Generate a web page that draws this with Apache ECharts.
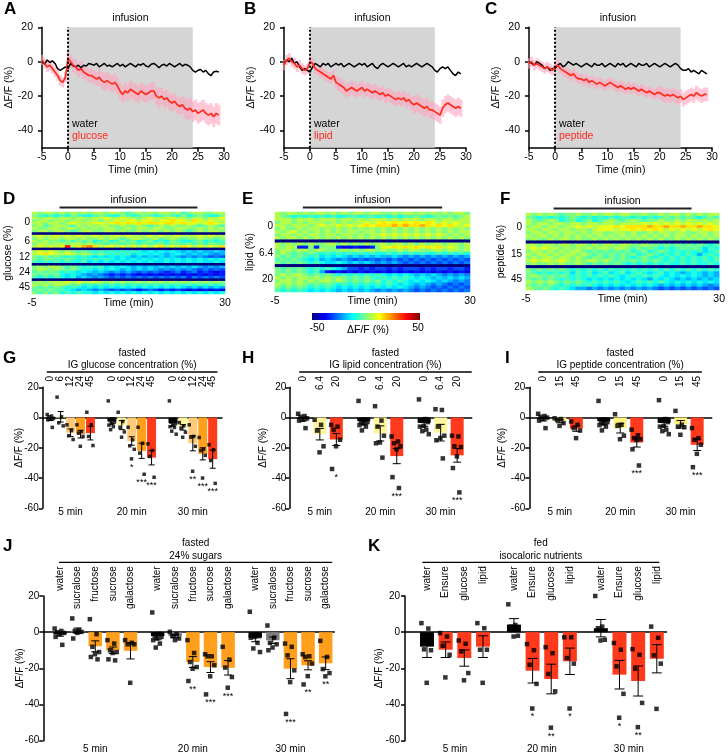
<!DOCTYPE html>
<html>
<head>
<meta charset="utf-8">
<script src="https://cdn.jsdelivr.net/npm/echarts@6.0.0/dist/echarts.min.js"></script>
<style>html,body{margin:0;padding:0;background:#fff;}#chart{width:728px;height:755px;}</style>
</head>
<body>
<div id="chart"></div>
<script>
// ================= DATA =================
// A–C: time courses (min) and mean ΔF/F (%)
const timeMin = [-5,-4.5,-4,-3.5,-3,-2.5,-2,-1.5,-1,-0.5, 0,0.5,1,1.5,2,2.5,3,3.5,4,4.5,
  5,5.5,6,6.5,7,7.5,8,8.5,9,9.5, 10,10.5,11,11.5,12,12.5,13,13.5,14,14.5,
  15,15.5,16,16.5,17,17.5,18,18.5,19,19.5, 20,20.5,21,21.5,22,22.5,23,23.5,24,24.5,
  25,25.5,26,26.5,27,27.5,28,28.5,29];
const waterA = [0,-1.5,1,-0.5,0.5,-1,-4,-5,-4,-3, -4,-1,-2.5,-3,-2,-3.5,-2,-2.5,-1,-1.5,
  -2,-1,-3,-2,-1,-2.5,-2,-3,-2,-1, -2.5,-1.5,-3,-2,-1,-2,-3,-1.5,-2,-1,
  -2.5,-3,-1.5,-1,-2,-3.5,-2,-1.5,-2.5,-1, -2,-3,-2,-1,-2.5,-1.5,-2,-3,-5,-6,
  -5,-4.5,-6,-5,-7,-8,-6,-5.5,-6];
const glucoseA = [1,-1,-3,-2,-4,-6,-8,-11,-12,-9, 2,0,-2,-3,-5,-4,-6,-7,-8,-8,
  -9,-10,-9,-11,-12,-11,-12,-13,-12,-14, -17,-19,-17,-18,-16,-17,-18,-19,-17,-18,
  -19,-18,-17,-17,-20,-21,-20,-22,-21,-23, -24,-23,-25,-26,-25,-27,-28,-27,-29,-28,
  -30,-29,-28,-30,-31,-30,-32,-30,-31];
const glucoseSemA = [3,3,3,3,3,3,3,3,3,3, 4,4,4,4,4,4,4,4,4,4, 4,4,5,5,5,5,5,5,5,5,
  5,5,5,5,5,5,5,5,5,5, 5,5,5,5,5,6,5,5,5,5, 5,5,5,5,5,6,6,6,6,6, 6,6,6,6,6,6,6,6,6];
const waterB = [-1,1,0,2,-1,0,-3,-5,-4,-5, -6,-3,-1,-2,-3,-1,-2,-1,-3,-2,
  -1,-2,-1,-3,-2,-1,-2,-3,-2,-1, -2,-1,-3,-2,-1,-3,-4,-2,-1,-2,
  -3,-2,-1,-2,-3,-2,-1,-3,-2,-3, -2,-1,-2,-3,-2,-1,-2,-3,-5,-6,
  -4,-3,-4,-3,-5,-7,-8,-6,-7];
const lipidB = [-2,1,2,0,-1,-3,-2,-4,-5,-4, 0,-1,-4,-5,-6,-7,-8,-9,-10,-8,
  -12,-13,-14,-15,-17,-16,-15,-16,-17,-16, -15,-17,-16,-17,-18,-17,-18,-19,-18,-20,
  -19,-20,-21,-22,-21,-22,-21,-23,-22,-24, -25,-24,-25,-26,-27,-26,-28,-28,-29,-30,
  -31,-27,-25,-24,-25,-26,-27,-26,-27];
const lipidSemB = [3,3,3,3,3,3,3,3,3,3, 3,3,3,3,3,3,3,3,3,3, 4,4,4,4,4,4,4,4,4,4,
  4,4,4,4,4,4,4,4,4,4, 4,4,4,4,4,4,4,4,4,4, 5,5,5,5,5,5,5,5,5,5, 5,5,5,5,5,5,5,5,5];
const waterC = [0,-1,-2,0,-1,-2,-4,-3,-5,-4, -4,-2,-1,-3,-2,0,-1,-2,-1,-2,
  -3,-2,-1,-2,-3,-1,-2,-2,-1,-3, -2,-1,-2,-3,-1,-2,-1,-3,-2,-1,
  -2,-3,-1,-2,-2,-1,-3,-2,-1,-2, -3,-2,-1,-2,-3,-2,-1,-2,-4,-5,
  -5,-4,-6,-5,-6,-7,-5,-6,-7];
const peptideC = [-1,0,-2,-1,-2,-3,-4,-3,-4,-5, -3,-2,-4,-5,-6,-7,-8,-7,-9,-10,
  -10,-11,-10,-12,-11,-12,-13,-12,-13,-14, -13,-12,-13,-14,-15,-14,-15,-16,-15,-16,
  -15,-16,-17,-16,-17,-18,-17,-18,-19,-18, -18,-19,-20,-19,-20,-19,-20,-21,-20,-22,
  -21,-20,-19,-20,-18,-19,-20,-19,-19];
const peptideSemC = [3,3,3,3,3,3,3,3,3,3, 3,3,3,3,3,3,3,3,3,3, 3,3,3,3,3,3,3,3,3,3,
  3,3,3,3,3,3,3,3,3,3, 3,3,3,3,3,3,3,3,3,3, 4,4,4,4,4,4,4,4,4,4, 4,4,4,4,4,4,4,4,4];
const infusionWindow = [0, 24];
const yTicksTime = [20, 0, -20, -40];

// D–F: heatmap rows (one letter per 1-min bin, a = -50 ... k = 0 ... u = +50, step 5)
const heatTimeLabels = [-5, 30];
const heatInfusion = [0, 25];
const heatGlucoseGroups = ['0','6','12','24','45'];
const heatGlucoseSizes = [8,5,5,5,5];
const heatGlucoseRows = [
 'lkllk lklkl kllkl lkjkl klkll kljkl lkkll','kjiji jikji ijkji ikjij kjijk jikij kjiik',
 'lkllk llkll kllml lmllk lmlll mllkl lkllm','kllkl lkllk llkll mlmml mmlmm nmmln mlmll',
 'llkll klmll lmmlm nmnmn mnnmn nmnmm lmnml','kljkl lkjlk lkllk klkkl kjklk lkklk jklkj',
 'lkkll kllkl klkll kklkl lkllk kllkk lklkl','kllkl lkjkl lkkll klkkl kllkl klkjk lkllk',
 'aaaaa aaaaa aaaaa aaaaa aaaaa aaaaa aaaaa',
 'lmllm lmlml lmlll mlmll lmlml lmlll mlmll','klkll kllkl kklkl kjkll kkljk lkjkk lkkjk',
 'lklkk jkjkj kijki jkjki jkiji kjiij kijij','kllkl lkllk lkkjk kjkkj kjkkj kkjkj kjkkj',
 'lmlml mrlmo pnlmm lmlml mlmnl mlnml mlmln',
 'aaaaa aaaaa aaaaa aaaaa aaaaa aaaaa aaaaa',
 'lmlml klkjk jijij ijiji hihih ihghg hgghg','lmnml lmlkl kjkji jijhi ihihg hihgh ghgfg',
 'kjkjk jijij ihihi hihgh ghghg hgfgf gfefe','kjkkj jkjij ijiji hihih ihihi hihih ihihi',
 'jijij ijiij hihih ihihi hihhi hihih ihhih',
 'aaaaa aaaaa aaaaa aaaaa aaaaa aaaaa aaaaa',
 'klkll kjkji jijhi hihgh ghghg hghgh gfgfg','kllkl kjkji ihihi hghgh ghgfg fgfgf efefe',
 'jkjkj ijihi hghgf gfgfe fefed efdef dedcd','kjkjk ihihg fgfed ededc dcdcd cdcdc dcdcd',
 'jijij ihigh gfgfe fefef efefe fefdf efefe',
 'aaaaa aaaaa aaaaa aaaaa aaaaa aaaaa aaaaa',
 'klkll lmlml lmlkl klkkl klklk lklkl klklk','lklkl lkjki jijij ijiji jijij ijiji jijij',
 'kjkjk jijih ihihi hihih ihihi hihgh ghghg','jkjkj jihgh gfgfe fefed efede dedcd cdcdc',
 'kjkjk ijiji ihihi hihih ihihi hihih ihihi'];
const heatLipidGroups = ['0','6.4','20'];
const heatLipidSizes = [9,7,8];
const heatLipidRows = [
 'lkllk lkllk lklkl lkllk klkll klklk lkllk','lkjij ijiji jiijj ijjij ijijj kjijk jkjkl',
 'lllkl llkll lkllk lklll klkll lkllk llkll','kllkl klllk lklkl lmlmn mnmnm nmnml mlmll',
 'llkll lklml lmlml mnmnn nonon nonmn mnmlm','klkkl kllkl klklk lklkl klklk lklkl klklk',
 'lklmk lklkl klkll kllkl klklk lklkl klkll','kllkl kllkl lkllk lkllm lmlml mlmlm lklkl',
 'lkllk lklkl klklk lklkl klklk lklkl klklk',
 'aaaaa aaaaa aaaaa aaaaa aaaaa aaaaa aaaaa',
 'lklkl klkkl lklkl klkll kllkl klkll kllkl','lklld dkdkk kdccd ccdkm mnmnm nmnmn lmlkl',
 'kllkl lkllk kklkl kllkl kklkl lkkll kllkl','klkjk jkjij ijiji jijii jijij ijiij ijiji',
 'kjkjk jijhi hihgh ghghg ghgfg fgfgf gfgfg','jkjkj ihigh gfgfe fefef efefe fefef efefe',
 'kjkjk jijih hihgh ghgfg fgfef efefe fefef',
 'aaaaa aaaaa aaaaa aaaaa aaaaa aaaaa aaaaa',
 'kjkjk jijij ihgee dedee dedee edede edeed','kjkjk jijgd cdcdc dcdcd cdcdc dcdcd cdcdc',
 'klkll kjkjk jijij ijiji hihih ghghg fgfgf','lklkl lklkl klkjk jkjij ijiji hihgh ghghg',
 'kllkl klkll klkjk jkjki jijih ihihg hgfgf','lklkl kjkjk jijij ijiji jihih ghgfg fefef',
 'kjkjk jijij ihihi hihih ihihg fgfef efefe','jijij ihihi hghgh ghgfg fgfgf efefe fefef'];
const heatPeptideGroups = ['0','15','45'];
const heatPeptideSizes = [9,7,7];
const heatPeptideRows = [
 'lklkl kjkkl kklkl lkllk klkkl kllkl klkll','kjiji jijkj ijiji jijji jijij kjkjk jijkj',
 'lkjkl kijki jkijk lkjkl kjkkl kklkl lklkl','lkllk llkll kllkl lklll lmlml mlmlm lmlml',
 'kllkl lkllm lmlmm mnmnn nnonn onnon nonnm','llkll kllkl lklmm mlmmn mnmnm lmlml mlmnm',
 'kllkl lkllk lkllk kllkl kklkl lkllk kllkl','lkllk lklkl klklk lklkl klklk lkllk lklkl',
 'klkkl kllkl kklkl klklk lklkl kklkl klklk',
 'aaaaa aaaaa aaaaa aaaaa aaaaa aaaaa aaaaa',
 'llkll kllkl lklkl lkllk klkkj kjkjk jkjij','lmlml lklkl klkll kllkj kjkji jijkj kjhji',
 'kllkl klkll kjkjk jkjki jkijk jijij ijhij','lkllk lkllk lkjkj kjkjk ijkji jijij igiji',
 'klkll kllkl kjkkj kjkji jkjij ijiji jijij','lmlml lmlkl kllkl kjkjk jkjkj ijiji jijij',
 'klkkl klkkl kjkjk jkjij ijiji jiiji jiiji',
 'aaaaa aaaaa aaaaa aaaaa aaaaa aaaaa aaaaa',
 'kjkjk jkjij ijiji jijij ijiji jijij ijiji','kjiji jijhj ijhij hijhi jihij hihgh ihghg',
 'klkjk jkjij ijiji jihij ijiji hihih ihghg','kjkjk jijij ihihi hihih ihgih ihghg hghgh',
 'lklkl kjkjk jijij ijihi jijij ihihi hihih','kjkjk jijij ijihi hihih ihihg hghgh ghgfg',
 'lkjkj ijihg gfgfg fgfgf gfgfe fefef efefe'];
const colorbarLabels = ['-50', '50'];

// G: glucose concentrations
const timeGroups = ['5 min', '20 min', '30 min'];
const gLabels = ['0','6','12','24','45'];
const gMean = [[-1,0.5,-10,-11,-10.3],[-2.5,-5,-15.5,-22,-26.5],[-3.7,-6.5,-17,-24,-27.5]];
const gSem = [[1,3.5,2.5,2.5,4.5],[1.8,3,2.8,5,4.8],[2,1.8,5,4,6]];
const gPts = [
 [[2,1,0.5,-0.5,-1,-1.5,-6.5],[13.5,0.5,-3.5,-5.5],[-4.8,-8.6,-12,-14.5],[-4.8,-9.2,-10.3,-12.5,-19],[3.5,-4.8,-12.5,-18.5]],
 [[11,-1,-2,-3,-4,-5,-6,-8],[3.5,-2.6,-6.4,-9.5,-13],[-6.4,-14.7,-18.7,-21,-27.3],[-6.4,-17,-23.5,-37.5],[-17.4,-21.8,-25.7,-39.5]],
 [[11,-2,-3,-4,-5,-6,-6.5,-9,-11],[-3.3,-5.5,-7,-9.7,-13],[-4.8,-12.5,-13,-19,-35.5],[-13.2,-21,-21.8,-25,-40],[-18,-21.3,-28.4,-43.5]]];
const gStars = [['','','','',''],['','','*','***','***'],['','','**','***','***']];
// H: lipid
const hLabels = ['0','6.4','20'];
const hMean = [[-1,-11,-14.5],[-2.4,-10.5,-25.5],[-3.5,-10,-25]];
const hSem = [[1.2,3.8,4],[2,5,5],[2.3,5.5,4.5]];
const hPts = [
 [[2.5,1,0.5,-0.5,-1.5,-2,-7],[-1.5,-4.8,-8.6,-19,-23],[-4.8,-6,-8,-14.7,-19,-34]],
 [[11,-1.5,-2.5,-3,-4,-5,-6,-8.5],[7.5,-2,-6,-12,-16.5,-17,-26.5],[-12.5,-15.8,-17,-19,-21,-39.4,-46.6]],
 [[12,-1,-2,-3,-5.5,-6,-8,-9,-11],[5.5,5,-6,-12,-13.5,-15,-27],[-12,-12.5,-19,-19.5,-25.7,-33.4,-49.5]]];
const hStars = [['','','*'],['','','***'],['','','***']];
// I: peptide
const iLabels = ['0','15','45'];
const iMean = [[-1,-2.4,-7.3],[-2.4,-7,-16.5],[-3.5,-4.5,-18]];
const iSem = [[1.2,1,1.8],[2,3.2,3],[2.3,2.5,3.8]];
const iPts = [
 [[2.5,1,0.5,0,-1,-2,-7],[-0.5,-1,-1.5,-3.7,-5.5],[-2.6,-4.8,-7,-8.6,-13.6]],
 [[11,-1.5,-2.5,-3,-4,-5,-6,-8.5],[2.2,-4.8,-5.5,-12,-14.3],[-8,-11.7,-13.6,-14.3,-14.8,-21,-31.7]],
 [[11.5,-1,-2,-3,-5.5,-6,-8,-9,-11],[4.4,-4.8,-6,-6.4,-11.4],[-7,-13.6,-14.7,-18,-24,-32.8]]];
const iStars = [['','',''],['','','***'],['','','***']];
// J: sugars
const jLabels = ['water','sucralose','fructose','sucrose','galactose'];
const jMean = [[-1.2,0.8,-7.8,-10,-10.3],[-2.2,-2.2,-16.5,-19.3,-19.7],[-3,-4.5,-20.2,-18.3,-17.2]];
const jSem = [[1,1.5,3,1.8,4.5],[2,0.8,3,3,4],[2.3,1.8,5.5,2.5,3.5]];
const jPts = [
 [[2,0.7,0,-0.4,-1.1,-2.6,-7],[7.6,1.1,0.7,0.2,-0.4,-3.5],[7.2,-1.1,-8.1,-11,-12.2,-13.7,-15],[-4.4,-6.3,-10,-11,-11.5,-15,-15.6],[-4.4,-5.9,-6.7,-6.7,-28]],
 [[10.9,-1,-2.2,-2.6,-3.5,-4.4,-6.3,-8.5],[0.2,-1.1,-2.2,-3.5,-4.4],[-4.4,-11.5,-16.5,-19.3,-20.2,-27],[-12.2,-13.3,-13.3,-18.3,-24.4,-34.4],[-8.1,-15.2,-19.6,-24.8,-30.7]],
 [[11.3,-1.1,-1.7,-2.2,-2.6,-3.1,-5.9,-9,-11],[3.7,-3,-5.9,-6.7,-8.5,-10],[-6.3,-8.1,-12.8,-21.1,-27.6,-45.2],[-12.2,-13.3,-13.7,-17.4,-24.3,-28.9],[-4.8,-13.7,-20.4,-22.6,-24.4]]];
const jStars = [['','','','',''],['','','**','***','***'],['','','***','**','**']];
// K: isocaloric nutrients (fed)
const kLabels = ['water','Ensure','glucose','lipid'];
const kMean = [[-8,-9.7,-14.3,-8],[4.2,-21.3,-25.9,-16.1],[2.2,-23.5,-27,-14.7]];
const kSem = [[6,4.3,4.5,6],[3.3,6.8,8.2,7.3],[4.8,7.9,8.3,7.8]];
const kPts = [
 [[5,2,-9.5,-10,-28],[-0.5,-2.4,-7.5,-12.5,-25],[-4.6,-6.4,-10.6,-22.6,-26.6],[5,2.2,-9.7,-9.7,-28]],
 [[15.4,4,3.1,-2,-2.4],[-6.6,-10,-18,-28.6,-42.2],[-8.3,-11.6,-23.1,-32.7,-52.8],[-2.8,-2.8,-14.3,-17.4,-42.2]],
 [[20,3.1,2.2,-4.2,-4.6],[-6,-9.7,-18.9,-34.1,-47.3],[-9.4,-12.5,-20.2,-39.1,-52.5],[3.1,-3.1,-12.8,-17.4,-42.4]]];
const kStars = [['','','',''],['','*','**','*'],['','*','**','']];

// ================= STYLE / LAYOUT =================
const FONT = '"Liberation Sans", Arial, Helvetica, sans-serif';
const RED_LINE = '#ff2b1c';
const BAR_RED = '#ff3a1c', BAR_ORANGE = '#ff9f1c', BAR_LORANGE = '#ffc97a', BAR_PALE = '#fff59a', BAR_GREY = '#808080';
const JET = ['#00007f','#0000ff','#007fff','#00ffff','#7fff7f','#ffff00','#ff7f00','#ff0000','#7f0000'];

const grids = [], xAxes = [], yAxes = [], series = [], later = [], heatIdx = [];
let chart;
const addGrid = g => (grids.push(g), grids.length - 1);
const addX = a => (xAxes.push(a), xAxes.length - 1);
const addY = a => (yAxes.push(a), yAxes.length - 1);
const txt = (size, extra) => Object.assign({color: '#000', fontSize: size, fontFamily: FONT}, extra || {});
const gText = (text, x, y, size, extra) => ({type: 'text', x, y, silent: true, z: 50,
  style: Object.assign({text, fill: '#000', fontSize: size, fontFamily: FONT, align: 'center', verticalAlign: 'middle'}, extra || {})});
const gLine = (x1, y1, x2, y2, w, col) => ({type: 'line', silent: true, z: 50, shape: {x1, y1, x2, y2}, style: {stroke: col || '#000', lineWidth: w}});
const axisLineStyle = {color: '#000', width: 1.5};

// ---------- time-course panels ----------
function timePanel(left, width, water, red, redSem, redName) {
  const g = addGrid({left, top: 27.3, width, height: 120.5});
  const xi = addX({type: 'value', gridIndex: g, min: -5, max: 30, interval: 5,
    axisLine: {onZero: false, lineStyle: axisLineStyle}, axisTick: {length: 4, lineStyle: axisLineStyle},
    axisLabel: txt(10.5, {margin: 4}), splitLine: {show: false},
    name: 'Time (min)', nameLocation: 'middle', nameGap: 17, nameMoveOverlap: false, nameTextStyle: txt(10.5)});
  const yi = addY({type: 'value', gridIndex: g, min: -50, max: 20,
    axisLine: {onZero: false, lineStyle: axisLineStyle},
    axisTick: {length: 4, customValues: yTicksTime, lineStyle: axisLineStyle},
    axisLabel: txt(10.5, {margin: 9, customValues: yTicksTime}), splitLine: {show: false},
    name: 'ΔF/F (%)', nameLocation: 'middle', nameGap: 27, nameMoveOverlap: false, nameTextStyle: txt(10.5)});
  const pairs = arr => timeMin.map((t, i) => [t, arr[i]]);
  const base = {xAxisIndex: xi, yAxisIndex: yi, showSymbol: false, silent: true};
  series.push(Object.assign({type: 'line', data: pairs(water), lineStyle: {opacity: 0}, z: 1,
    markArea: {silent: true, itemStyle: {color: '#d5d5d5'},
      label: Object.assign({show: true, position: 'top', formatter: 'infusion', distance: 4}, txt(10.5)),
      data: [[{xAxis: infusionWindow[0]}, {xAxis: infusionWindow[1]}]]},
    markLine: {silent: true, symbol: ['none', 'none'], label: {show: false},
      lineStyle: {type: [2, 2], color: '#000', width: 2}, data: [{xAxis: 0}]}}, base));
  // SEM of the red trace: one pink error bar per sample
  series.push({type: 'custom', xAxisIndex: xi, yAxisIndex: yi, silent: true, z: 2,
    data: timeMin.map((t, i) => [t, red[i] - redSem[i], red[i] + redSem[i]]),
    renderItem: (params, api) => {
      const a = api.coord([api.value(0), api.value(2)]), b = api.coord([api.value(0), api.value(1)]);
      const w = api.size([0.5, 0])[0];
      return {type: 'rect', shape: {x: a[0] - w / 2, y: a[1], width: w + 0.3, height: b[1] - a[1]},
        style: {fill: 'rgba(255,165,190,0.6)'}};
    }});
  series.push(Object.assign({type: 'line', data: pairs(water), lineStyle: {color: '#000', width: 1.5}, z: 3}, base));
  series.push(Object.assign({type: 'line', data: pairs(red), lineStyle: {color: RED_LINE, width: 1.7}, z: 4}, base));
  later.push(() => [
    gText('water', left + 30, 124, 10.5, {align: 'left'}),
    gText(redName, left + 30, 136, 10.5, {align: 'left', fill: RED_LINE})]);
}

// ---------- heatmap panels ----------
function heatPanel(left, top, width, height, rows, groups, sizes, yName, nameGap, labelMargin) {
  const g = addGrid({left, top, width, height});
  const clean = rows.map(r => r.replace(/ /g, ''));
  const nRows = clean.length;
  const xc = addX({type: 'category', gridIndex: g, position: 'top', data: clean[0].split('').map((_, i) => i), show: false});
  const yc = addY({type: 'category', gridIndex: g, position: 'right', data: clean.map((_, i) => i), inverse: true, show: false});
  const xv = addX({type: 'value', gridIndex: g, position: 'bottom', min: -5, max: 30,
    axisLine: {show: false}, axisTick: {show: false}, splitLine: {show: false},
    axisLabel: txt(10.5, {margin: 4, customValues: heatTimeLabels}),
    name: 'Time (min)', nameLocation: 'middle', nameGap: 4, nameMoveOverlap: false, nameTextStyle: txt(10.5)});
  const centers = [], lab = {};
  let start = 0;
  sizes.forEach((s, i) => { const c = start + s / 2; centers.push(c); lab[c.toFixed(2)] = groups[i]; start += s + 1; });
  addY({type: 'value', gridIndex: g, position: 'left', min: 0, max: nRows, inverse: true,
    axisLine: {show: false}, axisTick: {show: false}, splitLine: {show: false},
    axisLabel: txt(10, {margin: labelMargin, customValues: centers, formatter: v => lab[Number(v).toFixed(2)] || ''}),
    name: yName, nameLocation: 'middle', nameGap, nameMoveOverlap: false, nameTextStyle: txt(10.5)});
  const data = [];
  clean.forEach((r, ri) => r.split('').forEach((ch, ci) => data.push([ci, ri, (ch.charCodeAt(0) - 97) * 5 - 50])));
  series.push({type: 'heatmap', xAxisIndex: xc, yAxisIndex: yc, data, silent: true, emphasis: {disabled: true}, progressive: 0});
  heatIdx.push(series.length - 1);
  later.push(() => {
    const x0 = chart.convertToPixel({xAxisIndex: xv}, heatInfusion[0]);
    const x1 = chart.convertToPixel({xAxisIndex: xv}, heatInfusion[1]);
    return [gLine(x0, top - 4.5, x1, top - 4.5, 2, '#222'), gText('infusion', (x0 + x1) / 2, top - 12, 10.5)];
  });
}

// ---------- bar panels ----------
function barPanel(c) {
  const g = addGrid({left: c.left, top: c.top, width: c.width, height: c.height});
  const xi = addX({type: 'value', gridIndex: g, min: c.min, max: c.max,
    axisLine: {onZero: true, lineStyle: axisLineStyle}, axisTick: {show: false}, axisLabel: {show: false}, splitLine: {show: false}});
  const yi = addY({type: 'value', gridIndex: g, min: -60, max: 20, interval: 20,
    axisLine: {onZero: false, lineStyle: axisLineStyle}, axisTick: {length: 4, lineStyle: axisLineStyle},
    axisLabel: txt(10, {margin: c.labelMargin}), splitLine: {show: false},
    name: 'ΔF/F (%)', nameLocation: 'middle', nameGap: c.nameGap, nameMoveOverlap: false, nameTextStyle: txt(10)});
  const slotPx = c.width / (c.max - c.min);
  const barData = [], errData = [], ptData = [], starData = [], starText = [], xs = [];
  c.means.forEach((grp, gi) => grp.forEach((m, i) => {
    const x = gi * c.step + i;
    xs.push([gi, i, x]);
    barData.push({value: [x, m], itemStyle: {color: c.colors[i]}});
    errData.push([x, m, c.sems[gi][i]]);
    const p = c.pts[gi][i];
    p.forEach((v, k) => { const f = ((k * 0.618034) % 1) - 0.5; ptData.push([x + f * 0.8 * c.barWidth / slotPx, v]); });
    if (c.stars[gi][i]) { starText.push(c.stars[gi][i]); starData.push([x, Math.min(...p), starText.length - 1]); }
  }));
  const base = {xAxisIndex: xi, yAxisIndex: yi, silent: true};
  series.push(Object.assign({type: 'bar', data: barData, barWidth: c.barWidth, z: 2}, base));
  series.push(Object.assign({type: 'custom', data: errData, z: 3, renderItem: (params, api) => {
    const x = api.value(0), m = api.value(1), s = api.value(2);
    const a = api.coord([x, m + s]), b = api.coord([x, m - s]), w = c.capW / 2;
    const st = {stroke: '#000', lineWidth: 1};
    return {type: 'group', children: [
      {type: 'line', shape: {x1: a[0], y1: a[1], x2: b[0], y2: b[1]}, style: st},
      {type: 'line', shape: {x1: a[0] - w, y1: a[1], x2: a[0] + w, y2: a[1]}, style: st},
      {type: 'line', shape: {x1: b[0] - w, y1: b[1], x2: b[0] + w, y2: b[1]}, style: st}]};
  }}, base));
  series.push(Object.assign({type: 'scatter', data: ptData, symbol: 'rect', symbolSize: c.marker, itemStyle: {color: '#000'}, z: 4}, base));
  series.push(Object.assign({type: 'custom', data: starData, z: 5, renderItem: (params, api) => {
    const p = api.coord([api.value(0), api.value(1)]);
    return {type: 'text', x: p[0], y: p[1] + 4,
      style: {text: starText[api.value(2)], fill: '#000', fontSize: 9, fontFamily: FONT, align: 'center', verticalAlign: 'top'}};
  }}, base));
  later.push(() => {
    const px = v => chart.convertToPixel({xAxisIndex: xi}, v);
    const a = px(c.span[0]), b = px(c.span[1]), mid = (a + b) / 2;
    const els = [gLine(a, c.lineY, b, c.lineY, 1.3), gText(c.head1, mid, c.lineY - 19, 10), gText(c.head2, mid, c.lineY - 6.5, 10)];
    xs.forEach(([gi, i, x]) => els.push({type: 'text', x: px(x), y: c.lineY + 4, rotation: Math.PI / 2, silent: true, z: 50,
      style: {text: c.labels[i], fill: '#000', fontSize: 10, fontFamily: FONT, align: 'right', verticalAlign: 'middle'}}));
    c.means.forEach((grp, gi) => els.push(gText(timeGroups[gi], px(gi * c.step + (grp.length - 1) / 2), c.top + c.height + c.groupDy, 10)));
    return els;
  });
}

// ================= BUILD =================
timePanel(42, 182, waterA, glucoseA, glucoseSemA, 'glucose');
timePanel(284, 182, waterB, lipidB, lipidSemB, 'lipid');
timePanel(529, 183, waterC, peptideC, peptideSemC, 'peptide');

heatPanel(32, 212, 193, 82, heatGlucoseRows, heatGlucoseGroups, heatGlucoseSizes, 'glucose (%)', 18, 2);
heatPanel(275, 212, 195, 80, heatLipidRows, heatLipidGroups, heatLipidSizes, 'lipid (%)', 19, 2);
heatPanel(526, 213, 196, 77, heatPeptideRows, heatPeptideGroups, heatPeptideSizes, 'peptide (%)', 19, 4);

const rowTop = {top: 387.3, height: 121, lineY: 372, groupDy: 4};
const rowBot = {top: 596, height: 144.7, lineY: 562.3, groupDy: 8.5};
barPanel(Object.assign({left: 42.7, width: 179.3, min: -0.81, max: 17.26, step: 6.16, barWidth: 9, marker: 3.5, capW: 6,
  nameGap: 18, labelMargin: 4, span: [-0.4, 16.8], head1: 'fasted', head2: 'IG glucose concentration (%)',
  labels: gLabels, means: gMean, sems: gSem, pts: gPts, stars: gStars,
  colors: ['#000', BAR_PALE, BAR_LORANGE, BAR_ORANGE, BAR_RED]}, rowTop));
barPanel(Object.assign({left: 289.3, width: 182.4, min: -0.85, max: 10.2, step: 3.66, barWidth: 13, marker: 4.5, capW: 8,
  nameGap: 21, labelMargin: 3, span: [-0.25, 10.2], head1: 'fasted', head2: 'IG lipid concentration (%)',
  labels: hLabels, means: hMean, sems: hSem, pts: hPts, stars: hStars,
  colors: ['#000', BAR_PALE, BAR_RED]}, rowTop));
barPanel(Object.assign({left: 529.3, width: 182.4, min: -0.85, max: 10.2, step: 3.66, barWidth: 13, marker: 4.5, capW: 8,
  nameGap: 22, labelMargin: 4, span: [-0.3, 9.6], head1: 'fasted', head2: 'IG peptide concentration (%)',
  labels: iLabels, means: iMean, sems: iSem, pts: iPts, stars: iStars,
  colors: ['#000', '#fff27a', BAR_RED]}, rowTop));
barPanel(Object.assign({left: 43.3, width: 291, min: -0.95, max: 15.57, step: 5.54, barWidth: 13.5, marker: 4.5, capW: 8,
  nameGap: 18, labelMargin: 4, span: [-0.05, 15.45], head1: 'fasted', head2: '24% sugars',
  labels: jLabels, means: jMean, sems: jSem, pts: jPts, stars: jStars,
  colors: ['#000', BAR_GREY, BAR_ORANGE, BAR_ORANGE, BAR_ORANGE]}, rowBot));
barPanel(Object.assign({left: 405, width: 261.5, min: -1.18, max: 12.84, step: 4.66, barWidth: 14, marker: 4.5, capW: 10,
  nameGap: 21, labelMargin: 5, span: [-0.25, 12.45], head1: 'fed', head2: 'isocaloric nutrients',
  labels: kLabels, means: kMean, sems: kSem, pts: kPts, stars: kStars,
  colors: ['#000', BAR_RED, BAR_RED, BAR_RED]}, rowBot));

chart = echarts.init(document.getElementById('chart'), null, {renderer: 'canvas'});
chart.setOption({
  animation: false,
  backgroundColor: '#fff',
  textStyle: {fontFamily: FONT},
  grid: grids, xAxis: xAxes, yAxis: yAxes, series,
  visualMap: [{type: 'continuous', min: -50, max: 50, show: false, seriesIndex: heatIdx, inRange: {color: JET}}]
});

const letters = [['A', 4, 9], ['B', 244, 9], ['C', 485, 9], ['D', 3, 199], ['E', 242, 199], ['F', 500, 199],
  ['G', 3, 358], ['H', 242, 358], ['I', 505, 358], ['J', 3, 546], ['K', 368, 546]];
const staticGfx = letters.map(([t, x, y]) => gText(t, x, y, 17, {align: 'left', fontWeight: 'bold'}));
staticGfx.push({type: 'rect', silent: true, shape: {x: 312, y: 313, width: 108, height: 7},
  style: {fill: new echarts.graphic.LinearGradient(0, 0, 1, 0, JET.map((c, i) => ({offset: i / (JET.length - 1), color: c})))}});
staticGfx.push(gText(colorbarLabels[0], 317, 328, 10.5));
staticGfx.push(gText(colorbarLabels[1], 418, 328, 10.5));
staticGfx.push(gText('ΔF/F (%)', 368, 330, 10.5));

chart.setOption({graphic: staticGfx.concat(...later.map(f => f()))});
</script>
</body>
</html>
